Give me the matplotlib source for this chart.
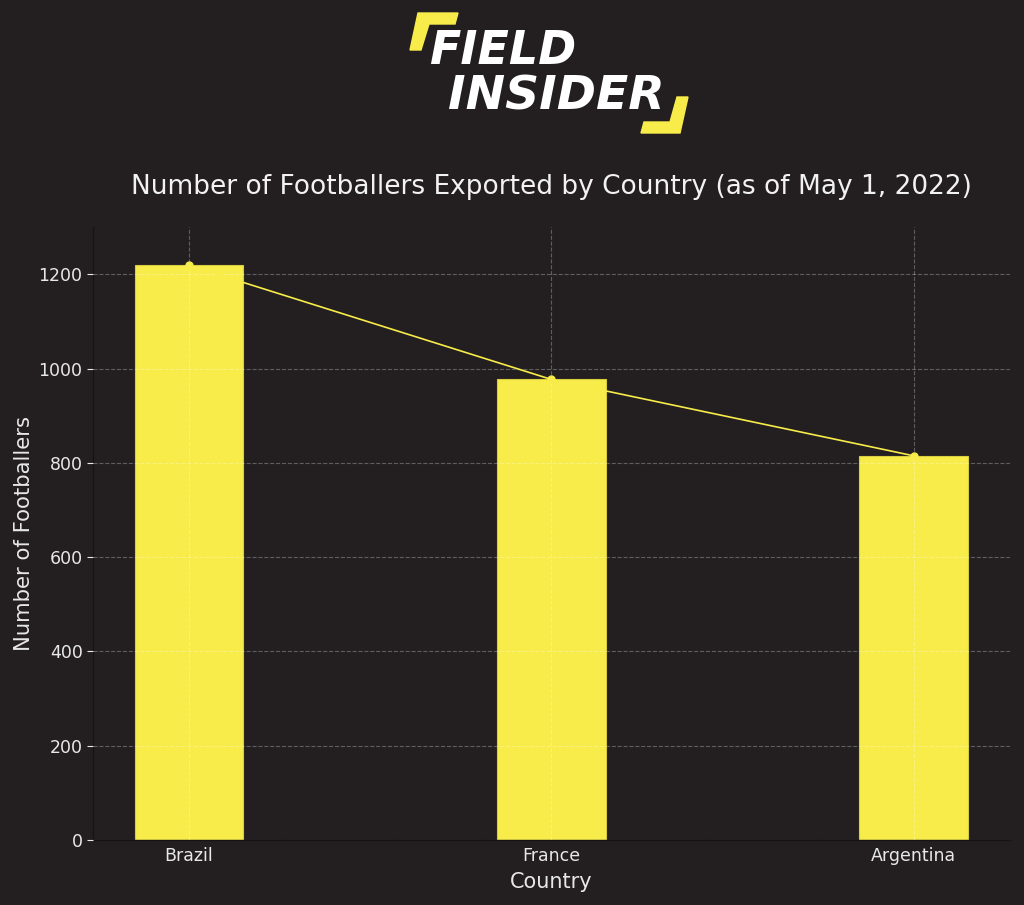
import matplotlib
matplotlib.use("Agg")
import matplotlib.pyplot as plt
from matplotlib.patches import Polygon

countries = ["Brazil", "France", "Argentina"]
players = [1219, 977, 815]

bg = "#231f20"
yellow = "#f7ec4a"
txt = "#e8e8e8"

fig = plt.figure(figsize=(10.24, 9.05), dpi=100, facecolor=bg)
ax = fig.add_axes([0.0908, 0.0718, 0.8952, 0.6772], facecolor=bg)

x = range(len(countries))
ax.bar(x, players, width=0.3, color=yellow, edgecolor="#d8cd3c", linewidth=0.8, zorder=1)
ax.plot(x, players, color=yellow, marker="o", markersize=5, linewidth=1.2, zorder=3)

ax.set_xticks(list(x))
ax.set_xticklabels(countries)
ax.set_ylim(0, 1300)
ax.grid(True, color="white", alpha=0.28, linestyle="--", linewidth=0.8, zorder=2)
ax.set_axisbelow(False)
for l in ax.get_lines():
    l.set_zorder(3)

for s in ["top", "right"]:
    ax.spines[s].set_visible(False)
for s in ["left", "bottom"]:
    ax.spines[s].set_color("#151313")
    ax.spines[s].set_linewidth(1.0)

ax.tick_params(colors=txt, labelsize=12.5, length=4)
ax.tick_params(axis="x", length=0, pad=5)
ax.set_xlabel("Country", color=txt, fontsize=15, labelpad=5)
ax.set_ylabel("Number of Footballers", color=txt, fontsize=15.2, labelpad=3)
ax.set_title("Number of Footballers Exported by Country (as of May 1, 2022)",
             color="#f2f2f2", fontsize=19, pad=24)

# logo
W, H = 1024, 905
def px(xp, yp):
    return (xp / W, 1 - yp / H)

fig.text(*px(503, 52), "FIELD", color="white", fontsize=33, fontweight="heavy",
         style="italic", ha="center", va="center")
fig.text(*px(556, 97), "INSIDER", color="white", fontsize=34, fontweight="heavy",
         style="italic", ha="center", va="center")
br1 = [(418, 13), (458, 13), (455, 24), (429, 24), (421, 50), (410, 50)]
br2 = [(677, 97), (688, 97), (680, 133), (641, 133), (644, 122), (670, 122)]
for pts in (br1, br2):
    fig.patches.append(Polygon([px(a, b) for a, b in pts], closed=True,
                               transform=fig.transFigure, color=yellow))

fig.savefig("out.png", dpi=100, facecolor=bg)
